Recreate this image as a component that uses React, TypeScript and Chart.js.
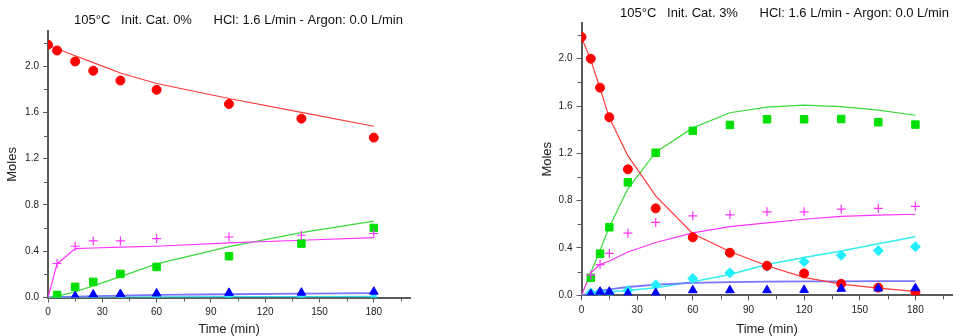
import React, { useEffect, useRef } from 'react';
import { Chart, registerables } from 'chart.js';

Chart.register(...registerables);

// ---------- Left panel: Init. Cat. 0% ----------
const titleA = '105°C   Init. Cat. 0%      HCl: 1.6 L/min - Argon: 0.0 L/min';
const timesA = [0, 5, 15, 25, 40, 60, 100, 140, 180];
const redA = [2.185, 2.135, 2.04, 1.96, 1.875, 1.795, 1.672, 1.546, 1.382];
const redFitA = [2.18, 2.15, 2.09, 2.03, 1.94, 1.85, 1.72, 1.6, 1.48];
const greenA = [null, 0.022, 0.092, 0.135, 0.204, 0.264, 0.357, 0.466, 0.601];
const greenFitA = [0, 0.01, 0.05, 0.1, 0.18, 0.29, 0.44, 0.56, 0.66];
const pinkA = [null, 0.294, 0.443, 0.489, 0.489, 0.509, 0.523, 0.538, 0.553];
const pinkFitA = [0, 0.29, 0.423, 0.428, 0.435, 0.443, 0.472, 0.495, 0.518];
const blueA = [null, null, 0.012, 0.025, 0.03, 0.035, 0.04, 0.042, 0.05];
const blueFitA = [0, 0.003, 0.008, 0.012, 0.017, 0.022, 0.028, 0.033, 0.038];
const cyanA = [null, 0.01, 0.008, 0.01, 0.01, 0.008, 0.01, 0.01, 0.012];
const cyanFitA = [0, 0.001, 0.002, 0.003, 0.004, 0.005, 0.006, 0.007, 0.008];

// ---------- Right panel: Init. Cat. 3% ----------
const titleB = '105°C   Init. Cat. 3%      HCl: 1.6 L/min - Argon: 0.0 L/min';
const timesB = [0, 5, 10, 15, 25, 40, 60, 80, 100, 120, 140, 160, 180];
const redB = [2.183, 2.0, 1.755, 1.505, 1.065, 0.735, 0.49, 0.36, 0.25, 0.185, 0.097, 0.065, 0.027];
const redFitB = [2.18, 1.99, 1.75, 1.5, 1.18, 0.84, 0.52, 0.37, 0.25, 0.152, 0.095, 0.06, 0.034];
const greenB = [null, 0.148, 0.352, 0.575, 0.955, 1.205, 1.39, 1.44, 1.488, 1.488, 1.49, 1.463, 1.443];
const greenFitB = [0, 0.19, 0.38, 0.578, 0.9, 1.21, 1.415, 1.543, 1.59, 1.607, 1.594, 1.565, 1.522];
const pinkB = [null, 0.17, 0.26, 0.355, 0.525, 0.616, 0.672, 0.68, 0.706, 0.706, 0.729, 0.735, 0.752];
const pinkFitB = [0, 0.19, 0.26, 0.29, 0.366, 0.446, 0.527, 0.58, 0.612, 0.643, 0.667, 0.677, 0.685];
const cyanB = [null, 0.02, 0.025, 0.02, 0.04, 0.088, 0.142, 0.19, 0.245, 0.284, 0.338, 0.378, 0.41];
const cyanFitB = [0, 0.01, 0.02, 0.03, 0.04, 0.063, 0.114, 0.176, 0.26, 0.32, 0.375, 0.435, 0.495];
const blueB = [null, 0.01, 0.03, 0.03, 0.015, 0.02, 0.043, 0.043, 0.043, 0.045, 0.055, 0.058, 0.06];
const blueFitB = [0, 0.02, 0.04, 0.05, 0.07, 0.091, 0.105, 0.112, 0.115, 0.117, 0.118, 0.119, 0.12];

// axis settings
const xMin = 0;
const xMax = 200;
const xStep = 15;
const yMin = 0;
const yMax = 2.3;
const yStep = 0.2;

const FONT = '"Liberation Sans", Arial, sans-serif';
const AXIS = '#5a5a5a';
const TEXT = '#222';
const MAJOR_LEN = 5;
const MINOR_LEN = 3;

function xy(times: number[], vals: (number | null)[]) {
  const out: { x: number; y: number }[] = [];
  times.forEach((t, i) => {
    const v = vals[i];
    if (v !== null && v !== undefined) out.push({ x: t, y: v });
  });
  return out;
}

function markers(times: number[], vals: (number | null)[], style: string, color: string, r: number, bw = 1) {
  return {
    data: xy(times, vals),
    showLine: false,
    pointStyle: style,
    pointRadius: r,
    pointHoverRadius: r,
    pointBackgroundColor: color,
    pointBorderColor: color,
    pointBorderWidth: bw,
    backgroundColor: color,
    borderColor: color,
  };
}

function fitLine(times: number[], vals: (number | null)[], color: string, w = 1.2) {
  return {
    data: xy(times, vals),
    showLine: true,
    pointRadius: 0,
    pointHoverRadius: 0,
    borderColor: color,
    borderWidth: w,
    backgroundColor: color,
    fill: false,
    tension: 0,
  };
}

const titlePlugin = {
  id: 'panelTitle',
  afterDraw(chart: any, _args: any, opts: any) {
    const ctx = chart.ctx;
    ctx.save();
    ctx.font = '13px ' + FONT;
    ctx.fillStyle = '#111';
    ctx.textAlign = 'left';
    ctx.textBaseline = 'middle';
    ctx.fillText(opts.text, opts.x, opts.y);
    ctx.restore();
  },
};

// draws the short (unlabelled) minor ticks
const minorTickPlugin = {
  id: 'minorTicks',
  afterDraw(chart: any) {
    const ctx = chart.ctx;
    const xs = chart.scales.x;
    const ys = chart.scales.y;
    const area = chart.chartArea;
    ctx.save();
    ctx.strokeStyle = AXIS;
    ctx.lineWidth = 1;
    ctx.beginPath();
    xs.ticks.forEach((t: any) => {
      if (t.label === '') {
        const px = Math.round(xs.getPixelForValue(t.value)) + 0.5;
        ctx.moveTo(px, area.bottom);
        ctx.lineTo(px, area.bottom + MINOR_LEN + 1);
      }
    });
    ys.ticks.forEach((t: any) => {
      if (t.label === '') {
        const py = Math.round(ys.getPixelForValue(t.value)) + 0.5;
        ctx.moveTo(area.left, py);
        ctx.lineTo(area.left - MINOR_LEN - 1, py);
      }
    });
    ctx.stroke();
    ctx.restore();
  },
};

const majorColor = (c: any) => (c.tick && c.tick.label === '' ? 'rgba(0,0,0,0)' : AXIS);

type PanelProps = {
  datasets: any[];
  title: string;
  titleX: number;
  titleY: number;
  pad: { top: number; right: number; left: number; bottom: number };
  yWidth: number;
  xHeight: number;
  width: number;
  left: number;
};

function Panel(p: PanelProps) {
  const ref = useRef<HTMLCanvasElement | null>(null);
  useEffect(() => {
    if (!ref.current) return;
    const chart = new Chart(ref.current, {
      type: 'scatter',
      data: { datasets: p.datasets },
      plugins: [titlePlugin, minorTickPlugin],
      options: {
        responsive: false,
        animation: false,
        events: [],
        layout: { padding: p.pad },
        plugins: {
          legend: { display: false },
          tooltip: { enabled: false },
          // @ts-ignore
          panelTitle: { text: p.title, x: p.titleX, y: p.titleY },
        },
        scales: {
          x: {
            type: 'linear',
            min: xMin,
            max: xMax,
            afterFit: (s: any) => {
              s.height = p.xHeight;
            },
            ticks: {
              stepSize: xStep,
              includeBounds: false,
              autoSkip: false,
              maxRotation: 0,
              padding: 4,
              color: TEXT,
              font: { size: 10, family: FONT },
              callback: (v: any) => (Math.round(v) % 30 === 0 ? String(Math.round(v)) : ''),
            },
            grid: {
              display: true,
              drawOnChartArea: false,
              drawTicks: true,
              tickLength: MAJOR_LEN,
              color: majorColor,
              lineWidth: 1,
            },
            border: { display: true, color: AXIS, width: 2 },
            title: {
              display: true,
              text: 'Time (min)',
              color: TEXT,
              font: { size: 13, family: FONT, lineHeight: 1 },
              padding: { top: 0, bottom: 0 },
            },
          },
          y: {
            type: 'linear',
            min: yMin,
            max: yMax,
            afterFit: (s: any) => {
              s.width = p.yWidth;
            },
            ticks: {
              stepSize: yStep,
              includeBounds: false,
              autoSkip: false,
              padding: 4,
              color: TEXT,
              font: { size: 10, family: FONT },
              callback: (v: any) => (Math.round(v * 10) % 4 === 0 ? Number(v).toFixed(1) : ''),
            },
            grid: {
              display: true,
              drawOnChartArea: false,
              drawTicks: true,
              tickLength: MAJOR_LEN,
              color: majorColor,
              lineWidth: 1,
            },
            border: { display: true, color: AXIS, width: 2 },
            title: {
              display: true,
              text: 'Moles',
              color: TEXT,
              font: { size: 13, family: FONT, lineHeight: 1 },
              padding: { top: 6, bottom: 0 },
            },
          },
        },
      } as any,
    });
    return () => chart.destroy();
  }, []);
  return (
    <canvas
      ref={ref}
      width={p.width}
      height={336}
      style={{ position: 'absolute', left: p.left, top: 0, width: p.width, height: 336 }}
    />
  );
}

const RED = '#ff0000';
const GREEN = '#00e000';
const PINK = '#ff33ff';
const BLUE = '#0000ff';
const CYAN = '#22eeff';

const datasetsA = [
  markers(timesA, redA, 'circle', RED, 4.5),
  markers(timesA, pinkA, 'cross', PINK, 4.5, 1.2),
  markers(timesA, greenA, 'rect', GREEN, 5.3),
  markers(timesA, blueA, 'triangle', BLUE, 5),
  markers(timesA, cyanA, 'triangle', CYAN, 4.5),
  fitLine(timesA, redFitA, '#ff3a3a'),
  fitLine(timesA, pinkFitA, '#ff33ff'),
  fitLine(timesA, greenFitA, '#3ada3a'),
  fitLine(timesA, blueFitA, '#7777ff', 1.8),
  fitLine(timesA, cyanFitA, '#33e0e0', 1.5),
];

const datasetsB = [
  markers(timesB, blueB, 'triangle', BLUE, 5),
  markers(timesB, redB, 'circle', RED, 4.5),
  markers(timesB, cyanB, 'rectRot', CYAN, 5),
  markers(timesB, pinkB, 'cross', PINK, 4.5, 1.2),
  markers(timesB, greenB, 'rect', GREEN, 5.3),
  fitLine(timesB, redFitB, '#ff3a3a'),
  fitLine(timesB, pinkFitB, '#ff33ff'),
  fitLine(timesB, greenFitB, '#3ada3a'),
  fitLine(timesB, blueFitB, '#7777ff', 1.8),
  fitLine(timesB, cyanFitB, '#33eeee', 1.5),
];

export default function App() {
  return (
    <div style={{ position: 'fixed', left: 0, top: 0, width: 961, height: 336, background: '#fff', overflow: 'hidden' }}>
      <Panel
        datasets={datasetsA}
        title={titleA}
        titleX={74}
        titleY={20}
        pad={{ top: 31.4, right: 70, left: 0, bottom: 0 }}
        yWidth={48}
        xHeight={38.5}
        width={480}
        left={0}
      />
      <Panel
        datasets={datasetsB}
        title={titleB}
        titleX={140}
        titleY={13.5}
        pad={{ top: 23.2, right: 8.5, left: 55, bottom: 0 }}
        yWidth={46.5}
        xHeight={40.7}
        width={481}
        left={480}
      />
    </div>
  );
}
